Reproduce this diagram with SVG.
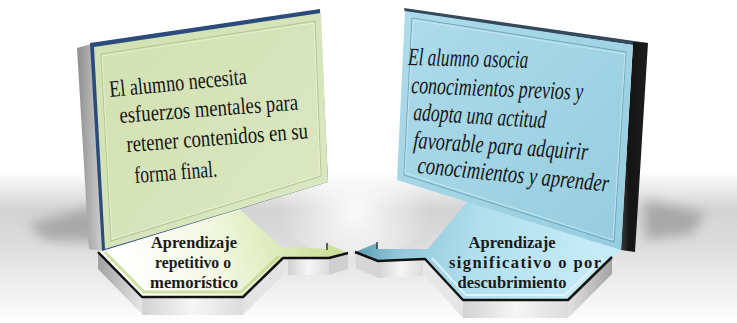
<svg xmlns="http://www.w3.org/2000/svg" width="737" height="323" viewBox="0 0 737 323">
<defs>
<style>
.ptxt{font-family:"Liberation Serif","Times New Roman",serif;font-size:23.5px;fill:#151515}
.pit{font-style:italic;font-size:25px}
.btxt{font-family:"Liberation Serif","Times New Roman",serif;font-size:17.5px;font-weight:bold;fill:#1a1a1a;text-anchor:middle}
.edge{fill:none;stroke:#111;stroke-width:2.5;stroke-linejoin:round}
.side{fill:url(#sideG)}
</style>
<linearGradient id="floor" x1="0" y1="0" x2="0" y2="323" gradientUnits="userSpaceOnUse">
<stop offset="0.53" stop-color="#ffffff"/>
<stop offset="0.65" stop-color="#d3d3d3"/>
<stop offset="0.76" stop-color="#dddddd"/>
<stop offset="0.93" stop-color="#f5f5f5"/>
<stop offset="1" stop-color="#ffffff"/>
</linearGradient>
<radialGradient id="center" cx="355" cy="212" r="75" gradientUnits="userSpaceOnUse">
<stop offset="0" stop-color="#ffffff" stop-opacity="0.9"/>
<stop offset="1" stop-color="#ffffff" stop-opacity="0"/>
</radialGradient>
<filter id="blur" x="-50%" y="-50%" width="200%" height="200%"><feGaussianBlur stdDeviation="6"/></filter>
<linearGradient id="sideG" x1="0" y1="0" x2="1" y2="0">
<stop offset="0" stop-color="#d2d2d2"/>
<stop offset="0.5" stop-color="#f6f6f6"/>
<stop offset="1" stop-color="#dcdcdc"/>
</linearGradient>
<linearGradient id="slantL" x1="0" y1="0" x2="1" y2="0">
<stop offset="0" stop-color="#a0a0a0"/>
<stop offset="1" stop-color="#e6e6e6"/>
</linearGradient>
<linearGradient id="slantR" x1="0" y1="0" x2="1" y2="0">
<stop offset="0" stop-color="#e2e2e2"/>
<stop offset="1" stop-color="#a4a4a4"/>
</linearGradient>
<linearGradient id="graySide" x1="0" y1="0" x2="1" y2="0">
<stop offset="0" stop-color="#8e8e8e"/>
<stop offset="1" stop-color="#d0d0d0"/>
</linearGradient>
<linearGradient id="blackSide" x1="0" y1="0" x2="1" y2="0">
<stop offset="0" stop-color="#3a3a3a"/>
<stop offset="0.3" stop-color="#141414"/>
<stop offset="1" stop-color="#1e1e1e"/>
</linearGradient>
<linearGradient id="greenFace" x1="94" y1="30" x2="328" y2="220" gradientUnits="userSpaceOnUse">
<stop offset="0" stop-color="#d2e1b2"/>
<stop offset="1" stop-color="#dbe7c2"/>
</linearGradient>
<linearGradient id="blueFace" x1="405" y1="20" x2="630" y2="240" gradientUnits="userSpaceOnUse">
<stop offset="0" stop-color="#addbea"/>
<stop offset="1" stop-color="#96cddf"/>
</linearGradient>
<linearGradient id="leftTop" x1="130" y1="285" x2="320" y2="230" gradientUnits="userSpaceOnUse">
<stop offset="0" stop-color="#ffffff"/>
<stop offset="0.45" stop-color="#f3f8e3"/>
<stop offset="1" stop-color="#cde19b"/>
</linearGradient>
<linearGradient id="rightTop" x1="590" y1="290" x2="360" y2="245" gradientUnits="userSpaceOnUse">
<stop offset="0" stop-color="#c5ebf6"/>
<stop offset="0.5" stop-color="#b2e0ee"/>
<stop offset="0.85" stop-color="#8fc6d8"/>
<stop offset="1" stop-color="#5e9db0"/>
</linearGradient>
</defs>

<g id="background">
<rect x="0" y="0" width="737" height="323" fill="url(#floor)"/>
<ellipse cx="355" cy="212" rx="75" ry="45" fill="url(#center)"/>
<polygon points="28,224 95,206 100,242 45,240" fill="#8a8a8a" opacity="0.6" filter="url(#blur)"/>
<polygon points="645,200 705,213 692,234 645,240" fill="#8a8a8a" opacity="0.6" filter="url(#blur)"/>
</g>

<g id="base-left">
<polygon points="98,252 142,297 142,314 98,269" fill="url(#slantL)"/>
<polygon points="142,297 243,297 243,315 142,315" class="side"/>
<polygon points="243,297 283,258 283,275 243,315" fill="#e4e4e4"/>
<polygon points="98,252 142,297 243,297 283,258 290,258 290,248 281,247 235,205 150,205 108,240" fill="url(#leftTop)"/>
<polyline points="105,252 144,292 241,292 279,256" fill="none" stroke="#c4d98f" stroke-width="3" opacity="0.8"/>
<polyline points="98,252 142,297 243,297 283,258 290,258" class="edge"/>
<text class="btxt" x="194" y="248" textLength="86" lengthAdjust="spacingAndGlyphs">Aprendizaje</text>
<text class="btxt" x="193" y="268" textLength="76" lengthAdjust="spacingAndGlyphs">repetitivo o</text>
<text class="btxt" x="194" y="288" textLength="88" lengthAdjust="spacingAndGlyphs">memorístico</text>
</g>

<g id="base-right">
<polygon points="612,257 612,274 568,318 568,300" fill="url(#slantR)"/>
<polygon points="463,300 568,300 568,318 463,318" class="side"/>
<polygon points="425,259 463,300 463,318 425,276" fill="#e6e6e6"/>
<polygon points="612,257 568,300 463,300 425,259 420,259 420,249 428,249 470,198 622,198 622,250" fill="url(#rightTop)"/>
<polyline points="604,258 565,295 466,295 432,258" fill="none" stroke="#e8f7fc" stroke-width="2" opacity="0.8"/>
<polyline points="420,259 425,259 463,300 568,300 612,257" class="edge"/>
<text class="btxt" x="512" y="248" textLength="87" lengthAdjust="spacingAndGlyphs">Aprendizaje</text>
<text class="btxt" x="525" y="268" textLength="152" lengthAdjust="spacing" style="font-size:16.5px">significativo o por</text>
<text class="btxt" x="512" y="288" textLength="109" lengthAdjust="spacingAndGlyphs">descubrimiento</text>
</g>

<g id="connectors">
<polygon points="288,258 329,258 329,275 288,275" class="side"/>
<polygon points="329,259 348,253 348,269 329,275" fill="#d0d0d0"/>
<polygon points="286,247 327,249 327,244 348,253 329,259 288,258" fill="url(#leftTop)"/>
<line x1="327" y1="243" x2="327" y2="250" stroke="#333" stroke-width="1.5"/>
<polyline points="288,258 329,258 348,253" class="edge"/>

<polygon points="378,261 423,259 423,276 378,278" class="side"/>
<polygon points="355,252 378,261 378,278 356,268" fill="#d6d6d6"/>
<polygon points="424,249 378,249 377,243 355,252 378,261 424,259" fill="url(#rightTop)"/>
<line x1="377" y1="242" x2="377" y2="249" stroke="#2d4a55" stroke-width="1.5"/>
<polyline points="355,252 378,261 424,259" class="edge"/>
</g>

<g id="panel-left">
<polygon points="77,48 91,44 103,251 89,249" fill="url(#graySide)"/>
<polygon points="90,43 320,9 328,182 102,251" fill="#2b4b7d"/>
<polygon points="94,47 321,13 328,182 105,249" fill="url(#greenFace)"/>
<polygon points="101,54 315,21 321,176 111,241" fill="none" stroke="#b3c58d" stroke-width="1"/>
<polygon points="102,56 314,23 320,175 112,239" fill="none" stroke="#eef5df" stroke-width="0.8" opacity="0.8"/>
<text class="ptxt" transform="translate(110,97) rotate(-5.5)" textLength="138" lengthAdjust="spacingAndGlyphs">El alumno necesita</text>
<text class="ptxt" transform="translate(120,123) rotate(-4.3)" textLength="179" lengthAdjust="spacingAndGlyphs">esfuerzos mentales para</text>
<text class="ptxt" transform="translate(127,152) rotate(-4.3)" textLength="182" lengthAdjust="spacingAndGlyphs">retener contenidos en su</text>
<text class="ptxt" transform="translate(135,183) rotate(-4.5)" textLength="83" lengthAdjust="spacingAndGlyphs">forma final.</text>
</g>

<g id="panel-right">
<polygon points="404,8 634,41 648,43 633,45 405,12" fill="#34495c"/>
<polygon points="633,42 648,43 635,252 621,250" fill="url(#blackSide)"/>
<polygon points="405,11 633,45 621,250 397,180" fill="url(#blueFace)"/>
<polygon points="412,18 626,52 614,242 404,175" fill="none" stroke="#6fa7ba" stroke-width="1"/>
<polygon points="413,20 625,54 613,240 405,173" fill="none" stroke="#d8f0f8" stroke-width="0.8" opacity="0.8"/>
<text class="ptxt pit" transform="translate(408,65) rotate(1.4)" textLength="120" lengthAdjust="spacingAndGlyphs">El alumno asocia</text>
<text class="ptxt pit" transform="translate(411,93) rotate(2.3)" textLength="172" lengthAdjust="spacingAndGlyphs">conocimientos previos y</text>
<text class="ptxt pit" transform="translate(413,120) rotate(3.5)" textLength="133" lengthAdjust="spacingAndGlyphs">adopta una actitud</text>
<text class="ptxt pit" transform="translate(413,148) rotate(3.9)" textLength="175" lengthAdjust="spacingAndGlyphs">favorable para adquirir</text>
<text class="ptxt pit" transform="translate(417,173) rotate(5.6)" textLength="192" lengthAdjust="spacingAndGlyphs">conocimientos y aprender</text>
</g>
</svg>
